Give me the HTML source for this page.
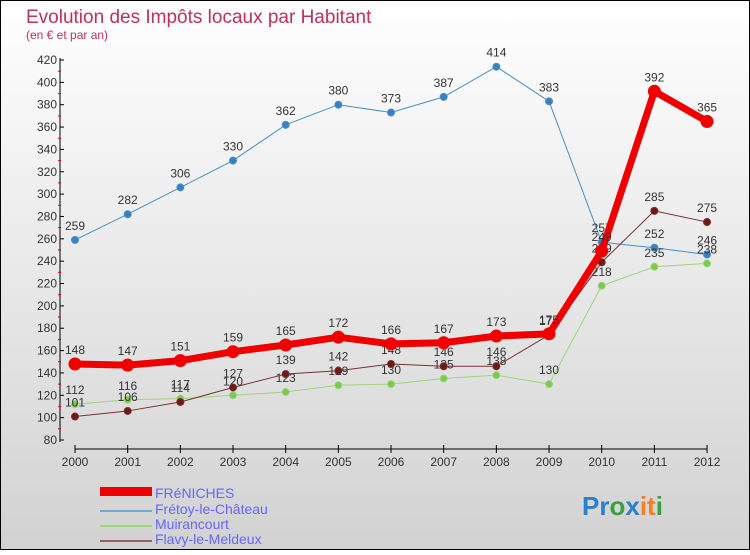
<!DOCTYPE html>
<html><head><meta charset="utf-8"><style>
body{margin:0;width:750px;height:550px;overflow:hidden;font-family:"Liberation Sans",sans-serif}
svg text{font-family:"Liberation Sans",sans-serif}
</style></head><body>
<svg id="c" width="750" height="550" xmlns="http://www.w3.org/2000/svg">
<defs><linearGradient id="bg" x1="0" y1="0" x2="0" y2="1"><stop offset="0" stop-color="#ffffff"/><stop offset="1" stop-color="#d2d2d2"/></linearGradient></defs>
<rect x="0.5" y="0.5" width="749" height="549" fill="url(#bg)" stroke="#000"/>
<text x="26" y="23" font-size="19" fill="#c0305a">Evolution des Impôts locaux par Habitant</text>
<text x="26" y="39" font-size="12" fill="#c0305a">(en € et par an)</text>
<g id="axes"></g><g id="series"></g>
<g>
<rect x="100" y="487" width="52" height="9" fill="#e00"/>
<text x="155" y="498" font-size="14" fill="#6666ff">FRéNICHES</text>
<line x1="100" y1="511" x2="152" y2="511" stroke="#6fa8d6" stroke-width="2"/>
<text x="155" y="514" font-size="14" fill="#6666ff">Frétoy-le-Château</text>
<line x1="100" y1="526" x2="152" y2="526" stroke="#9ed67a" stroke-width="2"/>
<text x="155" y="529" font-size="14" fill="#6666ff">Muirancourt</text>
<line x1="100" y1="541" x2="152" y2="541" stroke="#9a6060" stroke-width="2"/>
<text x="155" y="544" font-size="14" fill="#6666ff">Flavy-le-Meldeux</text>
</g>
<text x="582" y="515" font-size="26" font-weight="bold"><tspan fill="#2a7fd0">Pr</tspan><tspan fill="#3aa040">o</tspan><tspan fill="#2a7fd0">x</tspan><tspan fill="#f08020">it</tspan><tspan fill="#3aa040">i</tspan></text>
</svg>
<script>
const years=["2000","2001","2002","2003","2004","2005","2006","2007","2008","2009","2010","2011","2012"];
const yTicks=[80,100,120,140,160,180,200,220,240,260,280,300,320,340,360,380,400,420];
const freniches=[148,147,151,159,165,172,166,167,173,175,249,392,365];
const fretoy=[259,282,306,330,362,380,373,387,414,383,257,252,246];
const muirancourt=[112,116,117,120,123,129,130,135,138,130,218,235,238];
const flavy=[101,106,114,127,139,142,148,146,146,174,239,285,275];
const NS="http://www.w3.org/2000/svg";
const X=i=>75+i*52.67, Y=v=>440-(v-80)*380/340;
function mk(t,a,p){const e=document.createElementNS(NS,t);for(const k in a)e.setAttribute(k,a[k]);p.appendChild(e);return e;}
const ax=document.getElementById('axes');
let l=mk('line',{x1:60,y1:58,x2:60,y2:442,stroke:'#000'},ax);


l=mk('line',{x1:75,y1:449,x2:707,y2:449,stroke:'#000'},ax);


yTicks.forEach(v=>{
 mk('line',{x1:60,y1:Y(v),x2:64,y2:Y(v),stroke:'#000'},ax);
 if(v<420)mk('line',{x1:58,y1:Y(v+10),x2:61,y2:Y(v+10),stroke:'#e00'},ax);
 const t=mk('text',{x:57,y:Y(v)+4,'font-size':12,'text-anchor':'end',fill:'#333'},ax);t.textContent=v;
 
 
});
years.forEach((y,i)=>{
 mk('line',{x1:X(i),y1:445,x2:X(i),y2:453,stroke:'#000'},ax);
 const t=mk('text',{x:X(i),y:466,'font-size':12,'text-anchor':'middle',fill:'#333'},ax);t.textContent=y;
 
 
});
const sg=document.getElementById('series');
function draw(data,name,col,w,r,dot){
 const g=mk('g',{},sg);
 
 
 mk('polyline',{points:data.map((v,i)=>X(i)+','+Y(v)).join(' '),fill:'none',stroke:col,'stroke-width':w,'stroke-linejoin':'round'},g);
 data.forEach((v,i)=>{
  const c=mk('circle',{cx:X(i),cy:Y(v),r:r,fill:dot,stroke:col,'stroke-width':1},g);
  
  
  const t=mk('text',{x:X(i),y:Y(v)-10,'font-size':12,'text-anchor':'middle',fill:'#333'},g);t.textContent=v;
  
  
 });
}
draw(fretoy,'fretoy','#4a90c8',1,3.5,'#3a80c0');
draw(muirancourt,'muirancourt','#9ed67a',1,3.5,'#7cc850');
draw(flavy,'flavy','#7a3030',1,3.5,'#6a1a1a');
draw(freniches,'freniches','#ee0000',7,6,'#ee0000');
</script>
</body></html>
